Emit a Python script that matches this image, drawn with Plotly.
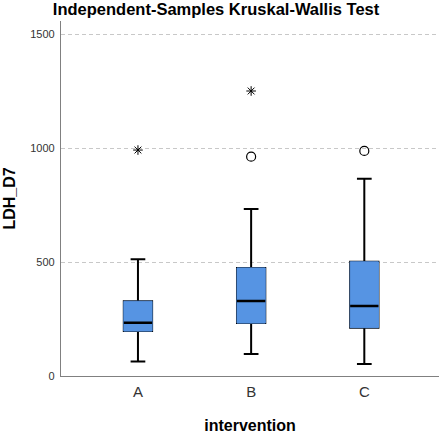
import plotly.graph_objects as go

categories = ["A", "B", "C"]
q1 = [197, 232, 212]
median = [234, 329, 307]
q3 = [328, 474, 501]
lower_whisker = [64, 96, 53]
upper_whisker = [512, 732, 865]

circle_x = ["B", "C"]
circle_y = [962, 987]
star_x = ["A", "B"]
star_y = [991, 1250]

y_ticks = [0, 500, 1000, 1500]

BLUE = "#5694E3"
BOX_W = 0.25

fig = go.Figure()

fig.add_trace(go.Box(
    x=categories, q1=q1, median=median, q3=q3,
    lowerfence=lower_whisker, upperfence=upper_whisker,
    width=BOX_W, whiskerwidth=0.52, boxpoints=False,
    line=dict(color="black", width=2), fillcolor=BLUE,
    hoverinfo="skip", showlegend=False,
))
fig.add_trace(go.Box(
    x=categories, q1=q1, median=q1, q3=q3,
    lowerfence=q1, upperfence=q3,
    width=BOX_W, whiskerwidth=0, boxpoints=False,
    line=dict(color=BLUE, width=1), fillcolor=BLUE,
    hoverinfo="skip", showlegend=False,
))
fig.add_trace(go.Box(
    x=categories, q1=median, median=median, q3=median,
    lowerfence=median, upperfence=median,
    width=BOX_W, whiskerwidth=0, boxpoints=False,
    line=dict(color="black", width=2.5), fillcolor="rgba(0,0,0,0)",
    hoverinfo="skip", showlegend=False,
))
fig.add_trace(go.Scatter(
    x=circle_x, y=circle_y, mode="markers",
    marker=dict(symbol="circle-open", size=9, color="black", line=dict(width=1.2)),
    showlegend=False, hoverinfo="skip",
))
fig.add_trace(go.Scatter(
    x=star_x, y=star_y, mode="markers",
    marker=dict(symbol="asterisk-open", size=8, color="black", line=dict(width=1, color="#222222")),
    showlegend=False, hoverinfo="skip",
))

fig.update_layout(
    width=440, height=434,
    margin=dict(l=61, r=1, t=21, b=58),
    paper_bgcolor="white", plot_bgcolor="white",
    boxmode="overlay",
    font=dict(family="Liberation Sans, Arial, sans-serif", color="#333333"),
    title=dict(text="<b>Independent-Samples Kruskal-Wallis Test</b>",
               x=0.491, xref="container", xanchor="center",
               y=0.991, yref="container", yanchor="top",
               font=dict(size=16.5, color="black")),
    xaxis=dict(
        type="category", categoryorder="array", categoryarray=categories,
        range=[-0.68, 2.66], automargin=False,
        showline=True, linecolor="#808080", linewidth=1.2,
        showgrid=False, zeroline=False, ticks="",
        ticklabelstandoff=2,
        tickfont=dict(size=15, color="#333333"),
        title=dict(text="<b>intervention</b>", font=dict(size=16, color="black"), standoff=20),
    ),
    yaxis=dict(
        range=[0, 1557], automargin=False,
        tickvals=y_ticks, ticktext=[str(v) for v in y_ticks],
        showline=True, linecolor="#808080", linewidth=1.2,
        showgrid=True, gridcolor="#c8c8c8", griddash="4px,3px", gridwidth=1,
        zeroline=False, ticks="",
        ticklabelstandoff=3,
        tickfont=dict(size=11, color="#333333"),
        title=dict(text="<b>LDH_D7</b>", font=dict(size=16, color="black"), standoff=10),
    ),
)

fig.write_html("out.html", config={"displayModeBar": False},
               post_script="document.body.style.margin='0';")
